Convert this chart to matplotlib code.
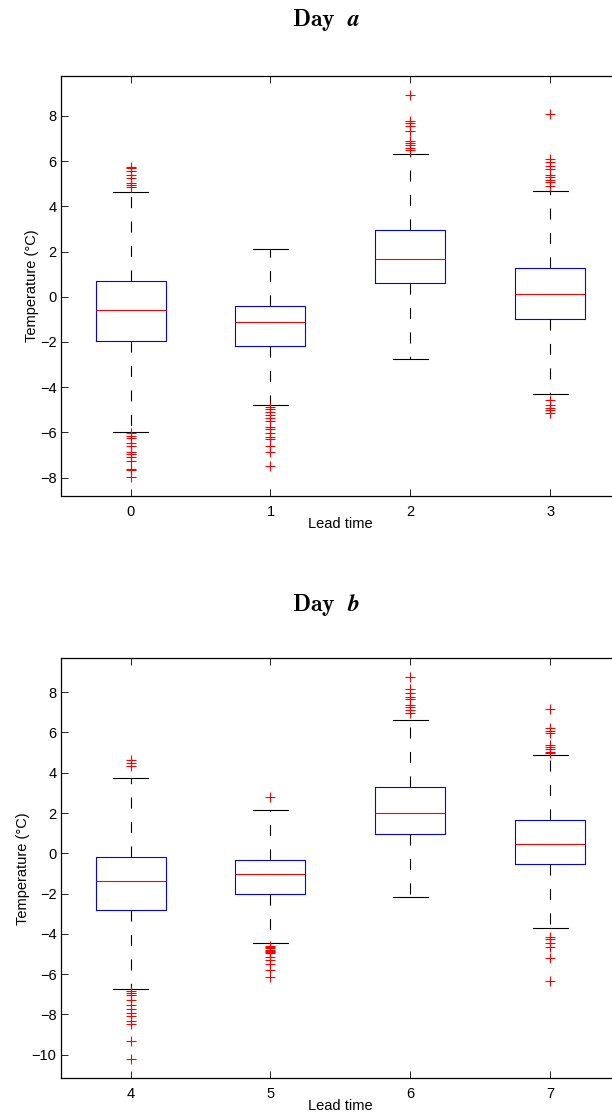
import numpy as np
import matplotlib.pyplot as plt
import matplotlib as mpl

mpl.rcParams['mathtext.fontset'] = 'cm'
plt.rcParams['font.family'] = ['Liberation Sans', 'DejaVu Sans']

# Day a: lead times 0..3
lead_a = [0, 1, 2, 3]
q1_a = [-1.97, -2.17, 0.62, -0.97]
med_a = [-0.57, -1.13, 1.67, 0.11]
q3_a = [0.69, -0.40, 2.94, 1.28]
whislo_a = [-5.99, -4.79, -2.77, -4.32]
whishi_a = [4.65, 2.11, 6.33, 4.68]
fliers_a = [
    [5.75, 5.68, 5.56, 5.41, 5.24, 5.02, 4.94, 4.87,
     -6.05, -6.15, -6.27, -6.46, -6.59, -6.86, -6.97, -7.08, -7.26, -7.62, -7.65, -7.99],
    [-4.87, -4.98, -5.09, -5.23, -5.38, -5.49, -5.75, -5.87, -6.05, -6.19, -6.31,
     -6.61, -6.86, -7.49],
    [8.91, 7.77, 7.67, 7.57, 7.33, 6.89, 6.81, 6.71, 6.59, 6.49],
    [8.10, 6.08, 5.97, 5.78, 5.64, 5.38, 5.31, 5.16, 5.09, 4.90,
     -4.57, -4.79, -4.94, -5.01, -5.16],
]

# Day b: lead times 4..7
lead_b = [4, 5, 6, 7]
q1_b = [-2.80, -2.00, 0.94, -0.53]
med_b = [-1.39, -1.04, 1.99, 0.46]
q3_b = [-0.18, -0.33, 3.29, 1.64]
whislo_b = [-6.72, -4.47, -2.18, -3.71]
whishi_b = [3.75, 2.13, 6.60, 4.88]
fliers_b = [
    [4.63, 4.50, 4.33,
     -6.82, -6.92, -7.03, -7.28, -7.53, -7.73, -7.91, -8.07, -8.31, -8.49, -9.32, -10.21],
    [2.81, -4.60, -4.65, -4.72, -4.78, -4.83, -4.90, -4.96, -5.13, -5.30, -5.49, -5.79, -6.15],
    [8.75, 8.17, 7.97, 7.77, 7.64, 7.36, 7.25, 7.11, 6.95],
    [7.15, 6.20, 6.07, 5.95, 5.37, 5.26, 5.16, 5.04, 4.96,
     -4.14, -4.27, -4.44, -4.67, -5.18, -6.34],
]

W, H = 612, 1117
fig = plt.figure(figsize=(W / 100, H / 100), dpi=100)


def draw(ax, lead, q1, med, q3, lo, hi, fl, ylim):
    stats = []
    for i in range(len(lead)):
        stats.append(dict(med=med[i], q1=q1[i], q3=q3[i], whislo=lo[i], whishi=hi[i],
                          fliers=fl[i]))
    ax.bxp(stats, positions=lead, widths=0.5, showfliers=True,
           boxprops=dict(color='blue', linewidth=0.8),
           medianprops=dict(color='red', linewidth=0.8),
           whiskerprops=dict(color='black', linewidth=0.8, linestyle=(0, (10, 12))),
           capprops=dict(color='black', linewidth=0.8),
           capwidths=0.25,
           flierprops=dict(marker='+', markeredgecolor='red', markersize=7,
                           markeredgewidth=0.8, linestyle='none'))
    ax.set_xlim(lead[0] - 0.5, lead[-1] + 0.5)
    ax.set_ylim(*ylim)
    ax.set_xticks(lead)
    ax.set_xticklabels([str(v) for v in lead])
    ax.tick_params(direction='in', top=True, right=True, length=5, width=0.6,
                   labelsize=10.5)
    ax.tick_params(axis='x', pad=6)
    ax.tick_params(axis='y', pad=3)
    for s in ax.spines.values():
        s.set_linewidth(0.9)
    ax.set_xlabel('Lead time', fontsize=10.5, labelpad=-1)
    ax.set_ylabel('Temperature (°C)', fontsize=10.5, labelpad=1)


ax1 = fig.add_axes([60.7 / W, 1 - 496.3 / H, (620 - 60.7) / W, (496.3 - 76) / H])
draw(ax1, lead_a, q1_a, med_a, q3_a, whislo_a, whishi_a, fliers_a, (-8.83, 9.77))
ax1.set_yticks(np.arange(-8, 9, 2))

ax2 = fig.add_axes([60.7 / W, 1 - 1078.3 / H, (620 - 60.7) / W, (1078.3 - 658.3) / H])
draw(ax2, lead_b, q1_b, med_b, q3_b, whislo_b, whishi_b, fliers_b, (-11.17, 9.68))
ax2.set_yticks(np.arange(-10, 9, 2))

fig.text(326 / W, 1 - 20 / H, r'$\mathbf{Day}\ \ \boldsymbol{a}$', ha='center', va='center', fontsize=17)
fig.text(326 / W, 1 - 605 / H, r'$\mathbf{Day}\ \ \boldsymbol{b}$', ha='center', va='center', fontsize=17)

fig.savefig('out.png', dpi=100)
